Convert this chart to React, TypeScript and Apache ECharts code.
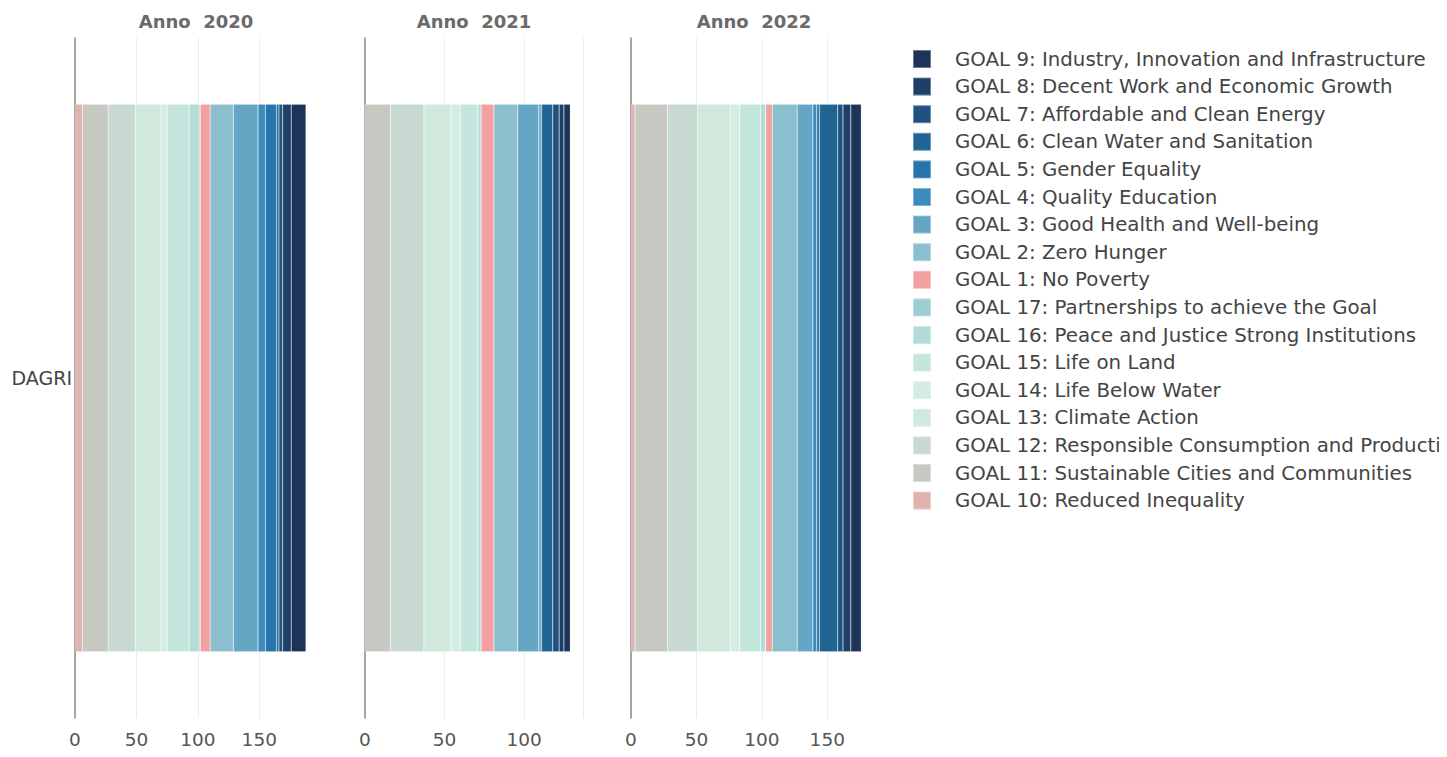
import React, { useEffect, useRef } from "react";
import * as echarts from "echarts";

const categories = ["DAGRI"];
const panelTitles = ["Anno  2020", "Anno  2021", "Anno  2022"];

// stacking order, left to right
const goalNames = [
  "GOAL 10: Reduced Inequality",
  "GOAL 11: Sustainable Cities and Communities",
  "GOAL 12: Responsible Consumption and Production",
  "GOAL 13: Climate Action",
  "GOAL 14: Life Below Water",
  "GOAL 15: Life on Land",
  "GOAL 16: Peace and Justice Strong Institutions",
  "GOAL 17: Partnerships to achieve the Goal",
  "GOAL 1: No Poverty",
  "GOAL 2: Zero Hunger",
  "GOAL 3: Good Health and Well-being",
  "GOAL 4: Quality Education",
  "GOAL 5: Gender Equality",
  "GOAL 6: Clean Water and Sanitation",
  "GOAL 7: Affordable and Clean Energy",
  "GOAL 8: Decent Work and Economic Growth",
  "GOAL 9: Industry, Innovation and Infrastructure",
];

const goalColors = [
  "#e0b3ae", "#c8c8c3", "#c7d9d1", "#d1e8dc", "#d3ede2", "#c4e6dd", "#b3dcd9", "#9ccdd4",
  "#f2a0a0", "#8bbfcd", "#65a6c4", "#3b8bbd", "#2574aa", "#1f6492", "#1f5281", "#203f68", "#1d3458",
];

const values2020 = [6, 21, 22, 21, 5, 18, 8, 1, 8, 19, 20, 6, 9, 2, 3, 7, 12];
const values2021 = [0, 16, 21, 17, 6, 11, 2, 0, 8, 15, 13, 1, 1, 7, 4, 3, 4];
const values2022 = [3, 25, 23, 25, 7, 16, 4, 0, 5, 19, 12, 3, 2, 14, 4, 6, 8];

const panelValues = [values2020, values2021, values2022];
const axisMax = [197, 137, 188];

export default function App() {
  const ref = useRef<HTMLDivElement>(null);

  useEffect(() => {
    if (!ref.current) return;
    const chart = echarts.init(ref.current, undefined, { renderer: "svg" });

    const gridLefts = [67, 357, 623];
    const gridWidths = [242, 218, 246];
    const font = "DejaVu Sans, Verdana, sans-serif";
    const gl = "#ececec";

    const grids = gridLefts.map((l, i) => ({
      left: l,
      width: gridWidths[i],
      top: 30,
      height: 687,
      containLabel: false,
    }));

    const xAxes = gridLefts.map((_, i) => ({
      type: "value",
      gridIndex: i,
      min: 0,
      max: axisMax[i],
      interval: 50,
      axisLine: { show: false },
      axisTick: { show: false },
      splitLine: {
        show: true,
        lineStyle: { color: [gl, gl, gl, gl, "rgba(0,0,0,0)"], width: 1 },
      },
      axisLabel: {
        showMaxLabel: false,
        color: "#555",
        fontSize: 18.5,
        fontFamily: font,
        margin: 12,
      },
    }));

    const yAxes = gridLefts.map((_, i) => ({
      type: "category",
      gridIndex: i,
      data: categories,
      axisLine: { show: true, lineStyle: { color: "#8a8a8a", width: 1.5 } },
      axisTick: { show: false },
      axisLabel: {
        show: i === 0,
        color: "#444",
        fontSize: 19,
        fontFamily: font,
        margin: 3,
      },
    }));

    const series: any[] = [];
    panelValues.forEach((vals, p) => {
      goalNames.forEach((name, g) => {
        series.push({
          type: "bar",
          name,
          xAxisIndex: p,
          yAxisIndex: p,
          stack: "s" + p,
          barCategoryGap: "19.5%",
          data: [vals[g]],
          itemStyle: {
            color: goalColors[g],
            borderColor: "rgba(255,255,255,0.35)",
            borderWidth: 0.5,
          },
          emphasis: { disabled: true },
        });
      });
    });

    const titles = panelTitles.map((t, i) => ({
      text: t,
      left: gridLefts[i] + gridWidths[i] / 2 - 5,
      textAlign: "center",
      top: -1,
      textStyle: {
        color: "#6a6a6a",
        fontSize: 18,
        fontWeight: 600,
        fontFamily: font,
      },
    }));

    chart.setOption({
      animation: false,
      color: goalColors,
      title: titles,
      grid: grids,
      xAxis: xAxes,
      yAxis: yAxes,
      legend: {
        orient: "vertical",
        left: 899,
        top: 36,
        itemWidth: 18,
        itemHeight: 18,
        itemGap: 7.6,
        icon: "rect",
        data: goalNames.slice().reverse(),
        textStyle: {
          color: "#444",
          fontSize: 19.8,
          fontFamily: font,
          padding: [0, 0, 0, 19],
        },
      },
      series,
    });

    return () => chart.dispose();
  }, []);

  return <div ref={ref} style={{ width: "1431px", height: "741px" }} />;
}
